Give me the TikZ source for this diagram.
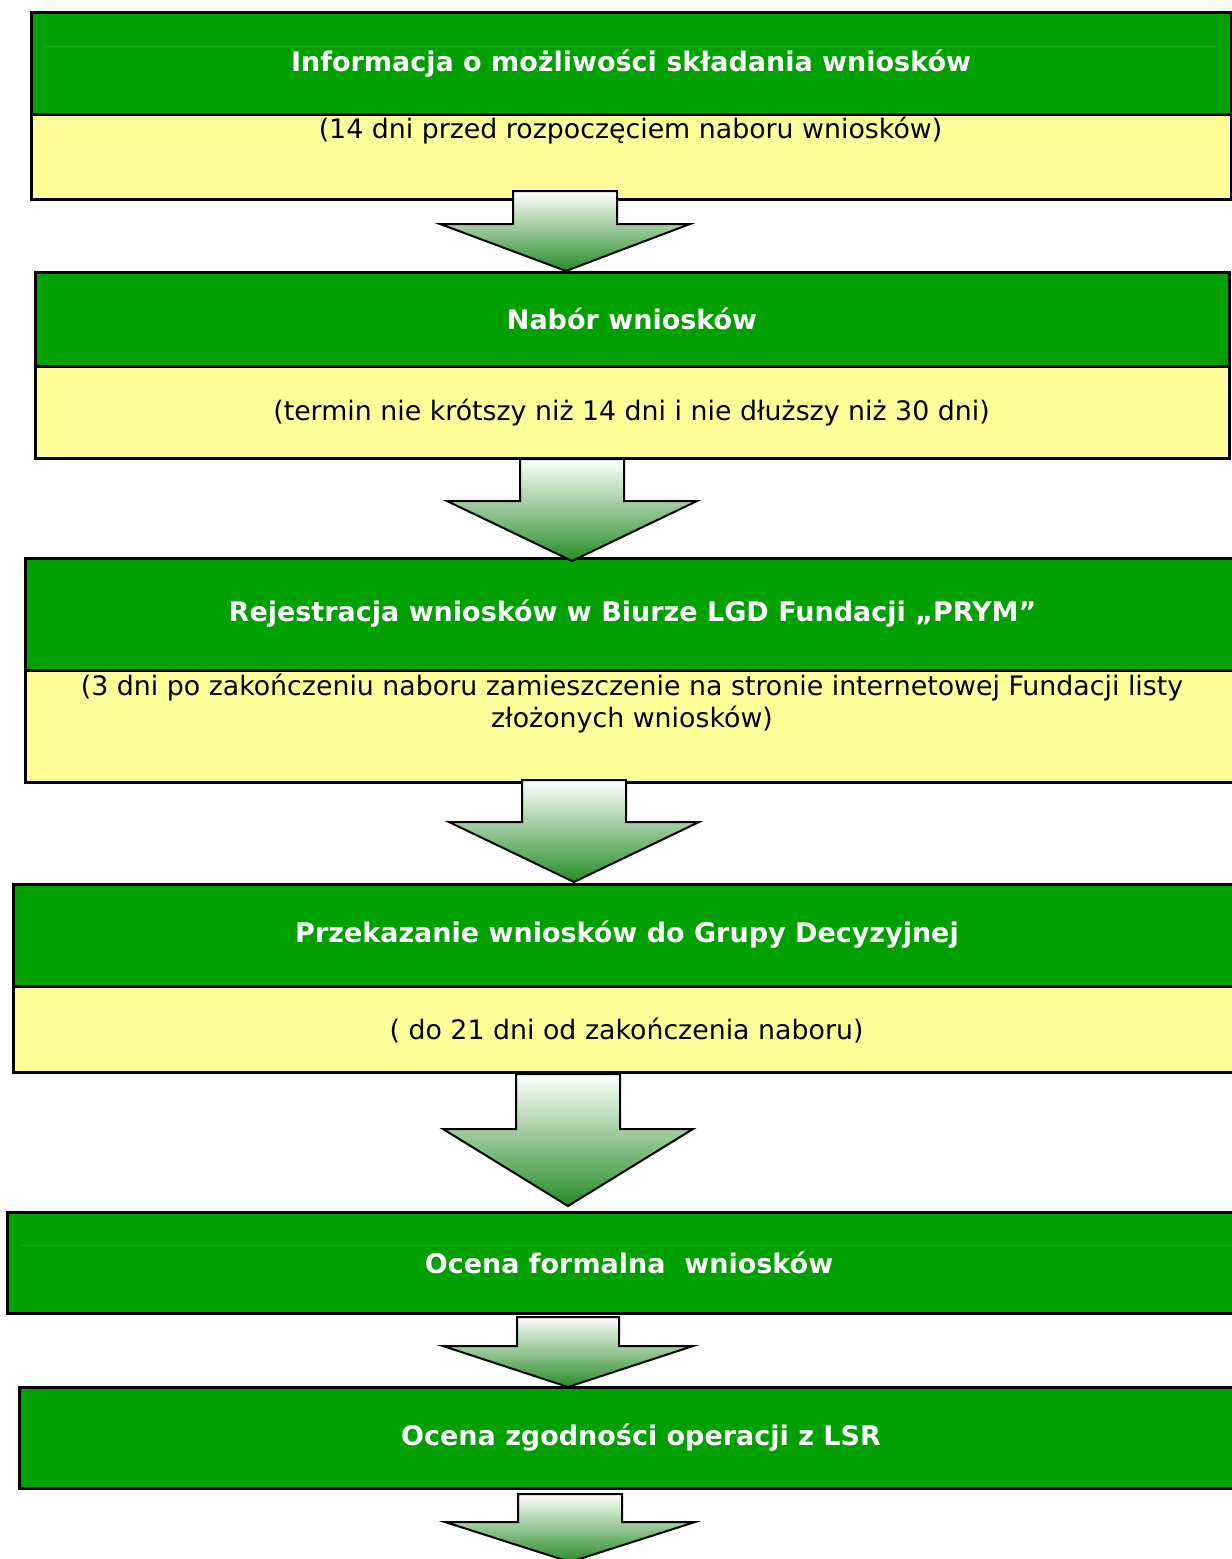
\documentclass[tikz,border=0pt]{standalone}
\usepackage{fontspec}
\setmainfont{DejaVu Sans}
\definecolor{boxgreen}{RGB}{0,160,0}
\definecolor{boxyellow}{RGB}{255,255,153}
\definecolor{arrowgreen}{RGB}{40,140,40}
\definecolor{faintgreen}{RGB}{25,168,25}
\tikzset{
  titlefont/.style={font=\fontsize{27}{32}\selectfont\bfseries},
  titlebox/.style={draw=black, line width=3pt, fill=boxgreen, inner sep=0pt, text=white, titlefont},
  notebox/.style={draw=black, line width=3pt, fill=boxyellow, inner sep=0pt},
  notetext/.style={font=\fontsize{26.8}{32}\selectfont, align=center, text=black, inner sep=0pt},
  blockarrow/.style={draw=black, line width=2pt, top color=white, bottom color=arrowgreen, line join=miter},
  faintline/.style={draw=faintgreen, line width=0.8pt}
}
\begin{document}
\begin{tikzpicture}[x=1pt,y=-1pt]
\useasboundingbox (0,0) rectangle (1232,1559);
\clip (0,0) rectangle (1232,1559);

% Box 1
\node[notebox, minimum width=1200pt, minimum height=85pt] (y1) at (631,156.5) {};
\node[titlebox, minimum width=1200pt, minimum height=102pt] (g1) at (631,63) {};
\draw[faintline] (45,46) -- (1217,46);
\node[text=white, titlefont, inner sep=0pt] (t1) at (631,64) {Informacja o możliwości składania wniosków};
\node[notetext] (s1) at (630.5,131) {(14 dni przed rozpoczęciem naboru wniosków)};

% Box 2
\node[notebox, minimum width=1194pt, minimum height=92pt] (y2) at (632,412) {};
\node[titlebox, minimum width=1194pt, minimum height=94pt] (g2) at (632,319) {Nabór wniosków};
\node[notetext] (s2) at (631.5,413) {(termin nie krótszy niż 14 dni i nie dłuższy niż 30 dni)};

% Box 3
\node[notebox, minimum width=1215pt, minimum height=112pt] (y3) at (632.5,726) {};
\node[titlebox, minimum width=1215pt, minimum height=112pt] (g3) at (632.5,614) {Rejestracja wniosków w Biurze LGD Fundacji „PRYM”};
\node[notetext] (s3) at (632,704) {(3 dni po zakończeniu naboru zamieszczenie na stronie internetowej Fundacji listy\\złożonych wniosków)};

% Box 4
\node[notebox, minimum width=1228pt, minimum height=86pt] (y4) at (627,1029) {};
\node[titlebox, minimum width=1228pt, minimum height=102pt] (g4) at (627,935) {Przekazanie wniosków do Grupy Decyzyjnej};
\node[notetext] (s4) at (626.5,1030) {( do 21 dni od zakończenia naboru)};

% Box 5
\node[titlebox, minimum width=1244pt, minimum height=101pt] (g5) at (629,1262.5) {};
\draw[faintline] (21,1245) -- (1251,1245);
\node[text=white, titlefont, inner sep=0pt] (t5) at (629,1263) {Ocena formalna\ \ wniosków};

% Box 6
\node[titlebox, minimum width=1244pt, minimum height=101pt] (g6) at (641,1437.5) {Ocena zgodności operacji z LSR};

% Block arrows
\draw[blockarrow] (513,191) -- (617,191) -- (617,224) -- (690,224) -- (566,271) -- (440,224) -- (513,224) -- cycle;
\draw[blockarrow] (520,459) -- (624,459) -- (624,501) -- (697,501) -- (572,561) -- (447,501) -- (520,501) -- cycle;
\draw[blockarrow] (522,780) -- (626,780) -- (626,822) -- (699,822) -- (574,882) -- (449,822) -- (522,822) -- cycle;
\draw[blockarrow] (516,1074) -- (620,1074) -- (620,1129) -- (693,1129) -- (568,1206) -- (443,1129) -- (516,1129) -- cycle;
\draw[blockarrow] (517,1317) -- (619,1317) -- (619,1346) -- (693,1346) -- (568,1387) -- (443,1346) -- (517,1346) -- cycle;
\draw[blockarrow] (518,1494) -- (622,1494) -- (622,1522) -- (695,1522) -- (570,1562) -- (445,1522) -- (518,1522) -- cycle;
\end{tikzpicture}
\end{document}
